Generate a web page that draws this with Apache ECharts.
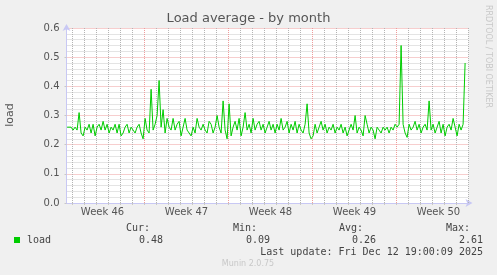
<!DOCTYPE html>
<html><head><meta charset="utf-8">
<script src="https://cdn.jsdelivr.net/npm/echarts@6/dist/echarts.min.js"></script>
<style>html,body{margin:0;padding:0;background:#f0f0f0}#c{width:497px;height:275px}</style>
</head><body><div id="c"></div>
<script>
// Time in days since Mon 10 Nov 2025 00:00
const axisStartDay = 0.5;
const axisEndDay = 34;
const sampleStartDay = 0.55;
const sampleStepDay = 1 / 6;
const loadValues = [
0.26,0.255,0.26,0.25,0.26,0.25,0.31,0.24,0.23,0.26,
0.25,0.27,0.24,0.27,0.23,0.26,0.27,0.25,0.28,0.25,
0.27,0.24,0.26,0.25,0.27,0.24,0.27,0.23,0.24,0.26,
0.27,0.24,0.26,0.25,0.24,0.26,0.27,0.24,0.22,0.29,
0.25,0.24,0.39,0.25,0.27,0.30,0.42,0.26,0.32,0.24,
0.29,0.26,0.25,0.29,0.25,0.27,0.28,0.23,0.26,0.29,
0.25,0.24,0.23,0.26,0.24,0.29,0.26,0.25,0.27,0.25,
0.24,0.28,0.27,0.24,0.26,0.30,0.26,0.24,0.35,0.25,
0.22,0.34,0.23,0.26,0.28,0.25,0.29,0.23,0.26,0.31,
0.25,0.27,0.24,0.29,0.25,0.27,0.28,0.25,0.27,0.24,
0.26,0.28,0.25,0.27,0.24,0.27,0.25,0.29,0.25,0.26,
0.28,0.24,0.27,0.25,0.28,0.24,0.27,0.25,0.24,0.27,
0.34,0.24,0.22,0.23,0.27,0.24,0.26,0.28,0.25,0.27,
0.24,0.26,0.25,0.27,0.24,0.26,0.25,0.27,0.24,0.26,
0.23,0.25,0.27,0.25,0.30,0.24,0.26,0.25,0.23,0.30,
0.27,0.24,0.26,0.25,0.22,0.26,0.25,0.24,0.26,0.25,
0.26,0.24,0.26,0.25,0.27,0.26,0.27,0.54,0.27,0.24,
0.225,0.27,0.25,0.26,0.28,0.25,0.27,0.24,0.26,0.27,
0.25,0.35,0.25,0.27,0.24,0.26,0.28,0.24,0.27,0.23,
0.26,0.27,0.25,0.29,0.26,0.23,0.27,0.25,0.27,0.48
];
const weekLabelDays = [3.5, 10.5, 17.5, 24.5, 31.5];
const weekLabels = ['Week 46', 'Week 47', 'Week 48', 'Week 49', 'Week 50'];
const weekBoundaryDays = [7, 14, 21, 28];
const dayLineDays = [1, 2, 3, 4, 5, 6, 8, 9, 10, 11, 12, 13, 15, 16, 17, 18, 19, 20,
  22, 23, 24, 25, 26, 27, 29, 30, 31, 32, 33, 34];
const legendName = 'load';
const statLabels = ['Cur:', 'Min:', 'Avg:', 'Max:'];
const statValues = ['0.48', '0.09', '0.26', '2.61'];
const lastUpdate = 'Last update: Fri Dec 12 19:00:09 2025';

const seriesData = loadValues.map((v, i) => [sampleStartDay + i * sampleStepDay, v]);
const gridLineData = dayLineDays.map(d => [d, 0]).concat(weekBoundaryDays.map(d => [d, 1]));

const minorColor = '#c8c8c8';
const vMinorColor = '#b4b4b4';
const majorColor = '#ee9c9c';
const axisColor = '#c8c8f4';
const mono = 'DejaVu Sans Mono';
const sans = 'DejaVu Sans';

const statRight = [150, 257, 363, 470];
const valRight = [163, 270, 376, 483];
const graphics = [
  {type: 'text', x: 10, y: 115, rotation: Math.PI / 2, style: {text: 'load', fill: '#555', font: '11px ' + sans, align: 'center', verticalAlign: 'middle'}},
  {type: 'text', x: 488, y: 5, rotation: -Math.PI / 2, style: {text: 'RRDTOOL / TOBI OETIKER', fill: '#c8c8c8', font: '8px ' + sans, align: 'left', verticalAlign: 'middle'}},
  {type: 'rect', shape: {x: 14, y: 237, width: 6, height: 6}, style: {fill: '#00cc00'}},
  {type: 'text', x: 27, y: 240, style: {text: legendName, fill: '#444', font: '10px ' + mono, align: 'left', verticalAlign: 'middle'}},
  {type: 'text', x: 483, y: 252, style: {text: lastUpdate, fill: '#444', font: '10px ' + mono, align: 'right', verticalAlign: 'middle'}},
  {type: 'text', x: 248, y: 264, style: {text: 'Munin 2.0.75', fill: '#c8c8c8', font: '8px ' + sans, align: 'center', verticalAlign: 'middle'}}
];
statLabels.forEach((s, i) => graphics.push({type: 'text', x: statRight[i], y: 228, style: {text: s, fill: '#444', font: '10px ' + mono, align: 'right', verticalAlign: 'middle'}}));
statValues.forEach((s, i) => graphics.push({type: 'text', x: valRight[i], y: 240, style: {text: s, fill: '#444', font: '10px ' + mono, align: 'right', verticalAlign: 'middle'}}));

const chart = echarts.init(document.getElementById('c'), null, {renderer: 'canvas'});
chart.setOption({
  backgroundColor: '#f0f0f0',
  animation: false,
  title: {text: 'Load average - by month', left: 'center', top: 12, padding: 0,
    textStyle: {fontFamily: sans, fontSize: 13, fontWeight: 'normal', color: '#555'}},
  grid: {left: 66.5, width: 402, top: 28, height: 175, show: true, backgroundColor: '#ffffff', borderWidth: 0},
  xAxis: {
    type: 'value', min: axisStartDay, max: axisEndDay,
    axisLine: {show: true, lineStyle: {color: axisColor}, symbol: ['none', 'arrow'], symbolSize: [6, 7], symbolOffset: [0, 4]},
    axisTick: {show: true, customValues: dayLineDays.concat(weekBoundaryDays), length: 2, inside: false, lineStyle: {color: '#c8c8c8'}},
    axisLabel: {show: true, customValues: weekLabelDays, margin: 4, color: '#555', fontFamily: sans, fontSize: 10,
      formatter: v => { const i = weekLabelDays.indexOf(v); return i >= 0 ? weekLabels[i] : ''; }},
    splitLine: {show: false}
  },
  yAxis: {
    type: 'value', min: 0, max: 0.6, interval: 0.1,
    axisLine: {show: true, lineStyle: {color: axisColor}, symbol: ['none', 'arrow'], symbolSize: [6, 7], symbolOffset: [0, 4]},
    axisTick: {show: true, length: 2, lineStyle: {color: '#c8c8c8'}},
    minorTick: {show: false, splitNumber: 5},
    axisLabel: {color: '#555', fontFamily: sans, fontSize: 10, margin: 7, formatter: v => v.toFixed(1)},
    splitLine: {show: true, lineStyle: {color: majorColor, type: [1, 1]}},
    minorSplitLine: {show: true, lineStyle: {color: minorColor, type: [1, 1]}}
  },
  graphic: graphics,
  series: [
    {type: 'custom', data: gridLineData, z: 1, silent: true, clip: false, encode: {x: 0},
      renderItem: (params, api) => {
        const x = api.coord([api.value(0), 0])[0];
        const cs = params.coordSys;
        return {type: 'line', silent: true,
          shape: {x1: x, y1: cs.y, x2: x, y2: cs.y + cs.height},
          style: {stroke: api.value(1) ? majorColor : vMinorColor, fill: null, lineWidth: 1, lineDash: [1, 1]}};
      }},
    {type: 'line', data: seriesData, z: 3, showSymbol: false, silent: true,
      lineStyle: {color: '#00cc00', width: 1}}
  ]
});
</script></body></html>
